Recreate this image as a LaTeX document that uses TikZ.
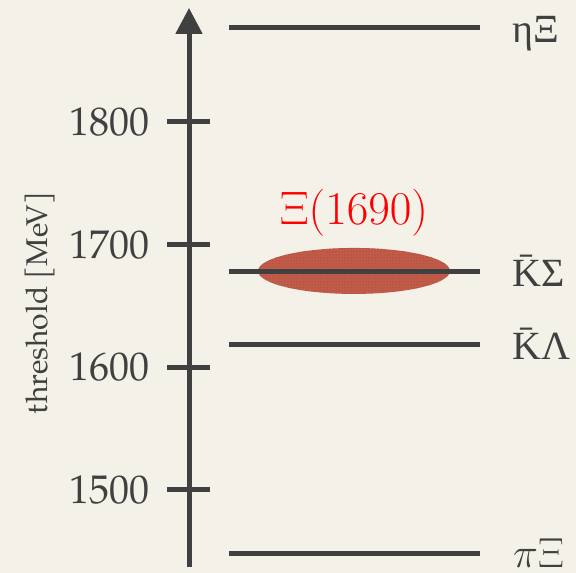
\RequirePackage{fix-cm}
\documentclass[tikz,border=0pt]{standalone}
\usepackage[no-math]{fontspec}
\setmainfont{texgyrepagella-regular.otf}
\newfontfamily\grk{Liberation Serif}
\usetikzlibrary{arrows.meta,calc,positioning,patterns,shapes.geometric}
\definecolor{paper}{RGB}{244,241,233}
\definecolor{ink}{RGB}{64,64,64}
\definecolor{xired}{RGB}{194,92,74}
\definecolor{xidot}{RGB}{150,55,45}

\begin{document}
\begin{tikzpicture}[x=1pt,y=1.2267pt,
    axisline/.style={line width=5pt,ink},
    level/.style={line width=5pt,ink},
    lbl/.style={anchor=base west,inner sep=0pt,text=ink,font=\grk\fontsize{40}{44}\selectfont},
    ticklbl/.style={anchor=east,inner sep=0pt,text=ink,font=\fontsize{40}{44}\selectfont}]
  \fill[paper] (0,1432.3) rectangle (576,1899.4);
  \useasboundingbox (0,1432.3) rectangle (576,1899.4);
  % energy axis
  \coordinate (bot) at (189,1437.2);
  \coordinate (top) at (189,1892.9);
  \draw[axisline,-{Triangle[length=26pt,width=26pt]}] (bot) -- (top);
  \foreach \m in {1500,1600,1700,1800} {
    \draw[axisline] (167,\m) -- (210,\m);
    \node[ticklbl] (t\m) at (150,\m) {\m};
  }
  \node[rotate=90,inner sep=0pt,text=ink,font=\fontsize{30}{34}\selectfont] (ylbl) at (40,1652.4) {threshold [MeV]};
  % thresholds
  \foreach \nm/\m in {etaXi/1876.6,KSigma/1677.7,KLambda/1618.4,piXi/1447.8} {
    \coordinate (\nm-l) at (229,\m);
    \coordinate (\nm-r) at (480,\m);
  }
  \node[ellipse,minimum width=192pt,minimum height=46pt,inner sep=0pt,fill=xired,
        postaction={pattern=dots,pattern color=xidot}] (xi) at (354,1678.5) {};
  \node[above=11pt of xi,inner sep=0pt,text=red,font=\fontsize{47}{52}\selectfont] (xilbl) {$\Xi(1690)$};
  \foreach \nm in {etaXi,KSigma,KLambda,piXi}
    \draw[level] (\nm-l) -- (\nm-r);
  \node[lbl] (letaXi) at ([shift={(32pt,-15pt)}]etaXi-r) {ηΞ};
  \node[lbl] (lKSigma) at ([shift={(32pt,-15pt)}]KSigma-r) {\=KΣ};
  \node[lbl] (lKLambda) at ([shift={(32pt,-15pt)}]KLambda-r) {\=KΛ};
  \node[lbl,font=\fontsize{42}{46}\selectfont] (lpiXi) at ([shift={(33pt,-14pt)}]piXi-r) {$\pi\Xi$};
\end{tikzpicture}
\end{document}
